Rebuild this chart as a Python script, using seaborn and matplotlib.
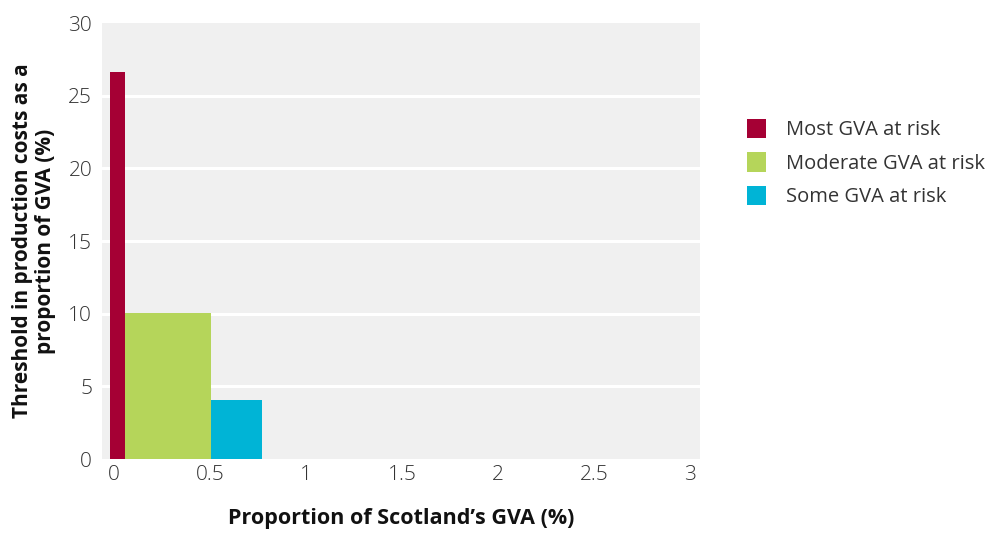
import matplotlib
matplotlib.use("Agg")
import matplotlib.pyplot as plt
import seaborn as sns
import numpy as np
import pandas as pd
from matplotlib.patches import Patch

categories = ["Most GVA at risk", "Moderate GVA at risk", "Some GVA at risk"]
bin_edges = [-0.02, 0.057, 0.505, 0.77]
thresholds = [26.6, 10.05, 4.05]
colors = ["#a50034", "#b5d55a", "#00b4d6"]
x_ticks = [0, 0.5, 1, 1.5, 2, 2.5, 3]
x_tick_labels = ["0", "0.5", "1", "1.5", "2", "2.5", "3"]
y_ticks = [0, 5, 10, 15, 20, 25, 30]

sns.set_theme(style="white")
plt.rcParams["font.family"] = ["Open Sans", "DejaVu Sans"]

mids = [(a + b) / 2 for a, b in zip(bin_edges[:-1], bin_edges[1:])]
df = pd.DataFrame({"x": mids, "h": thresholds, "cat": categories})

fig = plt.figure(figsize=(9.88, 5.35), dpi=100)
ax = fig.add_axes([0.1032, 0.142, 0.605, 0.815])
ax.set_facecolor("#f0f0f0")

sns.histplot(data=df, x="x", weights="h", hue="cat", bins=bin_edges,
             palette=dict(zip(categories, colors)), hue_order=categories,
             multiple="layer", alpha=1, linewidth=0, element="bars",
             legend=False, ax=ax, zorder=3)

ax.set_xlim(-0.062, 3.05)
ax.set_ylim(0, 30)
ax.set_xticks(x_ticks)
ax.set_xticklabels(x_tick_labels)
ax.set_yticks(y_ticks)
for y in y_ticks[1:-1]:
    ax.axhline(y, color="white", lw=2.2, zorder=1)
for s in ax.spines.values():
    s.set_visible(False)
ax.tick_params(axis="both", length=0, labelsize=15, colors="#333333")
ax.tick_params(axis="x", pad=4)
ax.tick_params(axis="y", pad=7)
for lab in ax.get_xticklabels() + ax.get_yticklabels():
    lab.set_fontweight("light")

ax.set_xlabel("Proportion of Scotland\u2019s GVA (%)", fontsize=15.5,
              fontweight="bold", color="#111111", labelpad=17)
ax.set_ylabel("Threshold in production costs as a\nproportion of GVA (%)",
              fontsize=15, fontweight="bold", color="#111111", labelpad=9,
              linespacing=1.1)

handles = [Patch(facecolor=c, edgecolor="none") for c in colors]
fig.legend(handles, categories, loc="upper left", bbox_to_anchor=(0.738, 0.812),
           frameon=False, fontsize=14.5, handlelength=0.95, handleheight=1.1,
           handletextpad=0.95, labelspacing=0.6, labelcolor="#333333")

fig.savefig("out.png", dpi=100)
